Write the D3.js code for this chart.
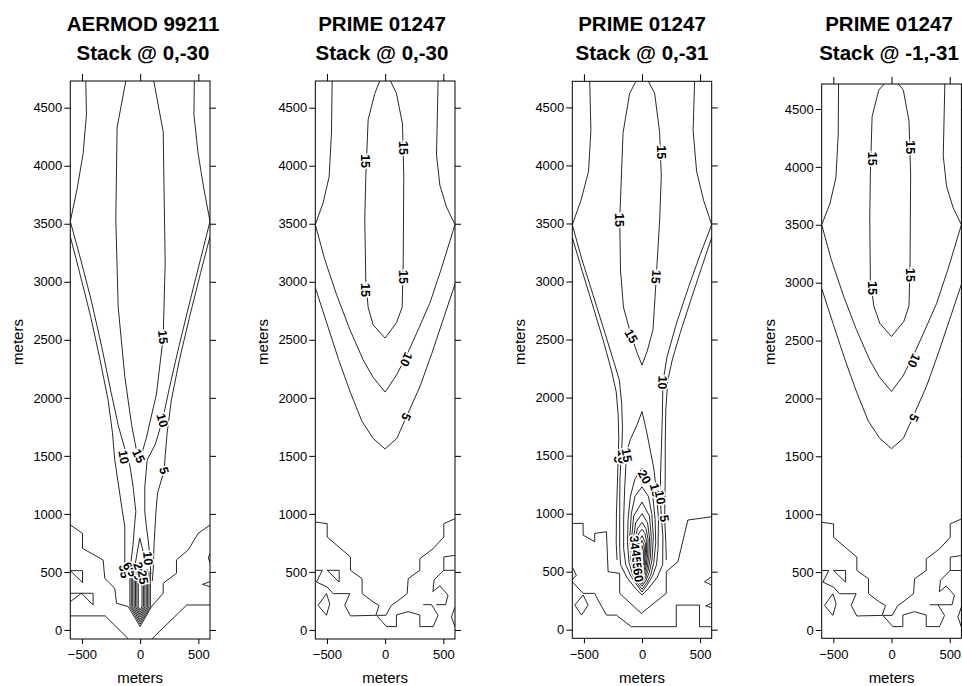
<!DOCTYPE html>
<html><head><meta charset="utf-8">
<script src="https://cdn.jsdelivr.net/npm/d3@7"></script>
<style>body{margin:0;background:#fff}svg{display:block}text{font-family:"Liberation Sans",Arial,Helvetica,sans-serif}</style>
</head><body><svg id="c" width="962" height="686"></svg>
<script>
// ---------- data (meters) ----------
const titles = [
  ["AERMOD 99211", "Stack @ 0,-30"],
  ["PRIME 01247", "Stack @ 0,-30"],
  ["PRIME 01247", "Stack @ 0,-31"],
  ["PRIME 01247", "Stack @ -1,-31"]
];
const xTicks = [-500, 0, 500];
const yTicks = [0, 500, 1000, 1500, 2000, 2500, 3000, 3500, 4000, 4500];
const axisTitle = "meters";

// Panel 1 : AERMOD 99211, stack @ 0,-30
const aermodLines = [
  [[-467,4730],[-461,4443],[-490,4104],[-541,3803],[-600,3520],[-510,3190],[-420,2840],[-330,2440],[-250,2050],[-185,1750],[-125,1540],[-89,1420],[-60,1230],[-37,1019],[-50,880],[-60,746],[-80,574],[-92,480]],
  [[465,4730],[462,4443],[498,4104],[547,3803],[600,3520],[520,3200],[420,2800],[330,2430],[250,2080],[192,1807],[130,1600],[60,1464],[40,1230],[40,1019],[55,880],[69,775],[83,632],[92,480]],
  [[-600,3390],[-515,3060],[-425,2700],[-345,2330],[-275,1980],[-238,1700],[-218,1464],[-152,1019],[-132,890],[-132,574],[-118,480]],
  [[600,3390],[520,3080],[425,2700],[338,2330],[268,1980],[232,1700],[215,1500],[206,1374],[149,1177],[135,1005],[120,746],[112,517],[104,420]],
  [[-123,4730],[-198,4330],[-209,3539],[-189,2786],[-132,2184],[-74,1770],[-31,1544],[0,1470],[54,1657],[140,2033],[198,2523],[215,3163],[198,4292],[117,4730]],
  [[-46,545],[-20,700],[-3,790],[20,700],[40,574]],
  [[-600,905],[-495,833],[-495,703],[-318,603],[-304,445],[-218,359],[-203,230],[-103,201],[0,29],[97,201],[198,316],[198,402],[312,488],[312,603],[413,690],[499,833],[600,904]],
  [[-600,121],[-300,121],[-100,-78]],
  [[100,-78],[400,215],[600,215]],
  [[-600,511],[-495,511],[-495,408],[-600,511]],
  [[-600,316],[-404,316],[-404,215],[-504,316]],
  [[-600,244],[-504,316]],
  [[600,416],[536,393],[600,373]],
  [[600,660],[585,620],[600,580]],
  [[-88,490],[-88,200],[0,50],[88,200],[88,490]],
  [[-76,505],[-76,200],[0,71],[76,200],[76,505]],
  [[-64,520],[-64,200],[0,91],[64,200],[64,520]],
  [[-52,525],[-52,200],[0,112],[52,200],[52,525]],
  [[-40,520],[-40,200],[0,132],[40,200],[40,520]],
  [[-28,505],[-28,200],[0,152],[28,200],[28,505]],
  [[-16,490],[-16,200],[0,173],[16,200],[16,490]]
];
const aermodLabels = [
  {t:"15", x:198, y:2523, r:85}, {t:"10", x:192, y:1807, r:75}, {t:"5", x:206, y:1374, r:75},
  {t:"10", x:-140, y:1490, r:80}, {t:"15", x:-12, y:1500, r:65}, {t:"10", x:69, y:617, r:85},
  {t:"95", x:-135, y:505, r:80}, {t:"65", x:-90, y:525, r:60}, {t:"35", x:-45, y:485, r:30},
  {t:"20", x:-5, y:525, r:70}, {t:"25", x:25, y:455, r:80}
];

// Panel 2 : PRIME 01247, stack @ 0,-30
const primeALines = [
  [[-455,4730],[-461,4283],[-481,3906],[-533,3680],[-600,3493],[-519,3193],[-418,2891],[-304,2590],[-189,2327],[-103,2176],[0,2050],[97,2195],[183,2364],[269,2553],[384,2816],[484,3117],[600,3493],[527,3644],[470,3832],[441,4096],[455,4730]],
  [[-600,2950],[-500,2640],[-400,2330],[-300,2050],[-200,1800],[-103,1650],[0,1560],[100,1650],[183,1837],[300,2100],[400,2380],[500,2680],[600,2980]],
  [[-46,4730],[-89,4623],[-146,4397],[-166,3908],[-175,3532],[-166,3004],[-146,2779],[-103,2628],[0,2515],[97,2647],[146,2779],[155,3155],[160,3908],[149,4360],[97,4623],[46,4730]],
  [[-600,930],[-498,916],[-498,801],[-298,629],[-298,514],[-198,442],[-198,313],[-103,241],[-52,212],[-80,126],[-298,121],[-347,212],[-304,313],[-447,313],[-498,370],[-590,413],[-539,514],[-600,514]],
  [[600,959],[504,916],[504,801],[412,700],[298,614],[298,514],[198,442],[189,313],[97,241],[54,212],[6,126],[-74,126],[11,29],[97,29],[97,129],[198,158],[298,129],[298,29],[412,29],[455,126],[398,218],[327,218]],
  [[600,643],[504,629],[504,514],[600,514]],
  [[504,514],[420,430],[410,330],[470,380],[540,300],[520,218],[440,218]],
  [[600,198],[570,112],[600,26]],
  [[-498,514],[-395,514],[-395,413],[-498,514]],
  [[-576,212],[-504,313],[-476,226],[-504,126],[-576,212]]
];
const primeALabels = [
  {t:"15", x:-166, y:4040, r:90}, {t:"15", x:-166, y:2929, r:90},
  {t:"15", x:155, y:4153, r:90}, {t:"15", x:155, y:3042, r:90},
  {t:"10", x:183, y:2330, r:115}, {t:"5", x:183, y:1837, r:115}
];

// Panel 3 : PRIME 01247, stack @ 0,-31
const primeBLines = [
  [[-450,4730],[-440,4300],[-460,3950],[-525,3700],[-600,3490],[-520,3200],[-420,2880],[-320,2560],[-240,2300],[-195,2150],[-175,1950],[-168,1750],[-172,1600],[-180,1480],[-190,1300],[-192,1000],[-192,700],[-185,560],[-130,450],[-60,360],[0,300],[60,360],[130,450],[178,560],[180,800],[165,1000],[158,1140],[160,1350],[168,1600],[175,1850],[180,2130],[215,2350],[300,2650],[400,2950],[500,3230],[600,3490],[530,3700],[470,3950],[440,4300],[453,4730]],
  [[-600,3380],[-515,3090],[-420,2780],[-330,2480],[-262,2230],[-222,2050],[-205,1850],[-200,1650],[-206,1467],[-212,1250],[-220,1000],[-222,750],[-215,600]],
  [[600,3380],[510,3110],[420,2840],[330,2560],[262,2330],[222,2150],[205,1900],[200,1600],[200,1300],[195,959],[205,750],[209,600]],
  [[-49,4730],[-106,4622],[-163,4283],[-192,3530],[-185,3100],[-160,2780],[-92,2531],[-40,2380],[0,2280],[45,2400],[95,2588],[123,3040],[152,3530],[166,3906],[152,4283],[109,4622],[52,4730]],
  [[0,1880],[-45,1760],[-100,1640],[-129,1540],[-140,1400],[-150,1200],[-158,950],[-158,700],[-140,560],[-95,460],[-40,380],[0,325],[40,380],[90,460],[125,560],[138,700],[142,950],[124,1200],[100,1400],[37,1720],[0,1880]],
  [[0,1390],[-60,1300],[-100,1150],[-120,950],[-125,750],[-112,580],[-80,470],[-40,400],[0,350],[38,400],[75,470],[102,580],[118,750],[113,950],[93,1150],[50,1300],[0,1390]],
  [[0,1230],[-60,1150],[-92,1000],[-105,800],[-95,600],[-68,490],[-35,420],[0,375],[32,420],[62,490],[86,600],[98,800],[84,1000],[55,1150],[0,1230]],
  [[0,1100],[-72,980],[-88,800],[-80,620],[-58,510],[-30,440],[0,395],[28,440],[52,510],[72,620],[80,800],[64,980],[0,1100]],
  [[0,1000],[-55,920],[-72,790],[-67,640],[-48,530],[-26,460],[0,415],[24,460],[44,530],[60,640],[65,790],[48,920],[0,1000]],
  [[0,925],[-40,870],[-58,780],[-55,650],[-40,550],[-22,480],[0,435],[20,480],[36,550],[49,650],[52,780],[35,870],[0,925]],
  [[0,865],[-28,830],[-45,760],[-44,660],[-32,565],[-18,500],[0,455],[16,500],[29,565],[39,660],[40,760],[25,830],[0,865]],
  [[0,810],[-33,750],[-34,665],[-25,580],[-14,520],[0,475],[13,520],[22,580],[30,665],[29,750],[0,810]],
  [[0,770],[-20,730],[-24,670],[-18,600],[-11,540],[0,495],[10,540],[16,600],[21,670],[17,730],[0,770]],
  [[0,725],[-13,680],[-12,620],[-8,560],[0,515],[7,560],[11,620],[11,680],[0,725]],
  [[-600,916],[-507,916],[-507,815],[-407,758],[-407,830],[-306,844],[-292,500],[-192,485],[-192,313],[-6,141],[209,313],[209,500],[309,586],[395,945],[600,973]],
  [[-600,413],[-507,313],[-407,313],[-378,255],[-306,126],[-221,126],[-92,26],[295,26],[295,212],[495,212],[495,26],[600,26]],
  [[-507,299],[-464,212],[-521,126],[-579,212],[-507,299]],
  [[600,456],[538,413],[600,385]],
  [[600,230],[548,205],[600,190]],
  [[-600,540],[-565,470],[-600,430]]
];
const primeBLabels = [
  {t:"15", x:166, y:4114, r:90}, {t:"15", x:-192, y:3530, r:90}, {t:"15", x:123, y:3040, r:95},
  {t:"15", x:-92, y:2531, r:60}, {t:"10", x:178, y:2130, r:92},
  {t:"5", x:-206, y:1467, r:90}, {t:"10", x:-169, y:1490, r:90}, {t:"15", x:-129, y:1504, r:80},
  {t:"20", x:23, y:1318, r:60}, {t:"15", x:117, y:1203, r:75}, {t:"10", x:158, y:1140, r:80}, {t:"5", x:195, y:959, r:80},
  {t:"35", x:-60, y:750, r:80}, {t:"40", x:-55, y:690, r:80}, {t:"45", x:-45, y:630, r:80},
  {t:"50", x:-40, y:570, r:80}, {t:"55", x:-35, y:520, r:80}, {t:"60", x:-30, y:470, r:80}
];

// Panel 4 : PRIME 01247, stack @ -1,-31
const primeCLines = [
  [[-455,4730],[-458,4283],[-478,3906],[-530,3680],[-600,3500],[-518,3200],[-416,2895],[-302,2595],[-187,2330],[-101,2180],[0,2060],[99,2195],[185,2365],[271,2555],[386,2818],[486,3120],[600,3500],[528,3650],[472,3835],[444,4096],[458,4730]],
  [[-600,2950],[-500,2640],[-400,2335],[-300,2055],[-200,1805],[-101,1655],[0,1566],[101,1655],[185,1840],[300,2105],[400,2385],[500,2685],[600,2985]],
  [[-52,4730],[-110,4663],[-167,4435],[-182,3941],[-187,3561],[-182,3029],[-153,2801],[-101,2649],[0,2535],[107,2668],[150,2801],[159,3181],[164,3941],[150,4397],[101,4663],[49,4730]],
  [[-600,930],[-498,916],[-498,801],[-298,629],[-298,514],[-198,442],[-198,313],[-103,241],[-52,212],[-80,126],[-298,121],[-347,212],[-304,313],[-447,313],[-498,370],[-590,413],[-539,514],[-600,514]],
  [[600,959],[504,916],[504,801],[412,700],[298,614],[298,514],[198,442],[189,313],[97,241],[54,212],[6,126],[-74,126],[11,29],[97,29],[97,129],[198,158],[298,129],[298,29],[412,29],[455,126],[398,218],[327,218]],
  [[600,643],[504,629],[504,514],[600,514]],
  [[504,514],[420,430],[410,330],[470,380],[540,300],[520,218],[400,218]],
  [[600,198],[570,112],[600,26]],
  [[-498,514],[-395,514],[-395,413],[-498,514]],
  [[-576,212],[-504,313],[-476,226],[-504,126],[-576,212]]
];
const primeCLabels = [
  {t:"15", x:-167, y:4071, r:90}, {t:"15", x:-167, y:2953, r:90},
  {t:"15", x:159, y:4169, r:90}, {t:"15", x:159, y:3067, r:90},
  {t:"10", x:193, y:2326, r:115}, {t:"5", x:193, y:1832, r:115}
];

// ---------- layout ----------
const panels = [
  {lines:aermodLines, labels:aermodLabels, xr:[70.3,210], yr:[639,81], yd:[-78,4730], tx:143},
  {lines:primeALines, labels:primeALabels, xr:[315.3,455], yr:[639,81], yd:[-78,4730], tx:382},
  {lines:primeBLines, labels:primeBLabels, xr:[572.3,711.7], yr:[638.3,81.3], yd:[-74,4725], tx:642},
  {lines:primeCLines, labels:primeCLabels, xr:[821.7,961.4], yr:[638.3,84], yd:[-72,4716], tx:889}
];

const svg = d3.select("#c");
svg.append("rect").attr("width",962).attr("height",686).attr("fill","#fff");

panels.forEach((p, i) => {
  const x = d3.scaleLinear().domain([-600, 600]).range(p.xr);
  const y = d3.scaleLinear().domain(p.yd).range(p.yr);
  const g = svg.append("g");
  const cid = "clip" + i;
  g.append("clipPath").attr("id", cid).append("rect")
    .attr("x", p.xr[0]).attr("y", p.yr[1]).attr("width", p.xr[1]-p.xr[0]).attr("height", p.yr[0]-p.yr[1]);
  const plot = g.append("g").attr("clip-path", `url(#${cid})`);
  const line = d3.line().x(d => x(d[0])).y(d => y(d[1]));
  plot.selectAll("path.c").data(p.lines).join("path").attr("class","c")
    .attr("d", line).attr("fill","none").attr("stroke","#000").attr("stroke-width",0.85)
    .attr("stroke-linejoin","round");
  plot.selectAll("text.l").data(p.labels).join("text").attr("class","l")
    .attr("transform", d => `translate(${x(d.x)},${y(d.y)}) rotate(${d.r})`)
    .attr("text-anchor","middle").attr("dy","0.36em")
    .attr("font-size",12.5).attr("font-weight","bold")
    .attr("stroke","#fff").attr("stroke-width",3).attr("paint-order","stroke")
    .attr("fill","#000").text(d => d.t);

  // box
  g.append("rect").attr("x", p.xr[0]).attr("y", p.yr[1]).attr("width", p.xr[1]-p.xr[0]).attr("height", p.yr[0]-p.yr[1])
    .attr("fill","none").attr("stroke","#000").attr("stroke-width",1);

  const style = a => { a.select(".domain").remove(); a.selectAll("line").attr("stroke","#000"); a.selectAll("text").attr("font-size",13).attr("fill","#000").attr("font-family",null); };
  g.append("g").attr("transform",`translate(0,${p.yr[0]})`)
    .call(d3.axisBottom(x).tickValues(xTicks).tickSize(5).tickPadding(6).tickFormat(d3.format("d"))).call(style);
  g.append("g").attr("transform",`translate(0,${p.yr[1]})`)
    .call(d3.axisTop(x).tickValues(xTicks).tickSize(7).tickFormat("")).call(style);
  g.append("g").attr("transform",`translate(${p.xr[0]},0)`)
    .call(d3.axisLeft(y).tickValues(yTicks).tickSize(6).tickPadding(2).tickFormat(d3.format("d"))).call(style);
  g.append("g").attr("transform",`translate(${p.xr[1]},0)`)
    .call(d3.axisRight(y).tickValues(yTicks).tickSize(6).tickFormat("")).call(style);

  // axis titles
  const cx = (p.xr[0]+p.xr[1])/2;
  g.append("text").attr("x", cx).attr("y", 683).attr("text-anchor","middle").attr("font-size",15).text(axisTitle);
  g.append("text").attr("transform",`translate(${p.xr[0]-47},342) rotate(-90)`).attr("text-anchor","middle").attr("font-size",15).text(axisTitle);

  // title
  g.append("text").attr("x", p.tx).attr("y", 31).attr("text-anchor","middle").attr("font-size",20.5).attr("font-weight","bold").text(titles[i][0]);
  g.append("text").attr("x", p.tx).attr("y", 60).attr("text-anchor","middle").attr("font-size",20.5).attr("font-weight","bold").text(titles[i][1]);
});
</script></body></html>
